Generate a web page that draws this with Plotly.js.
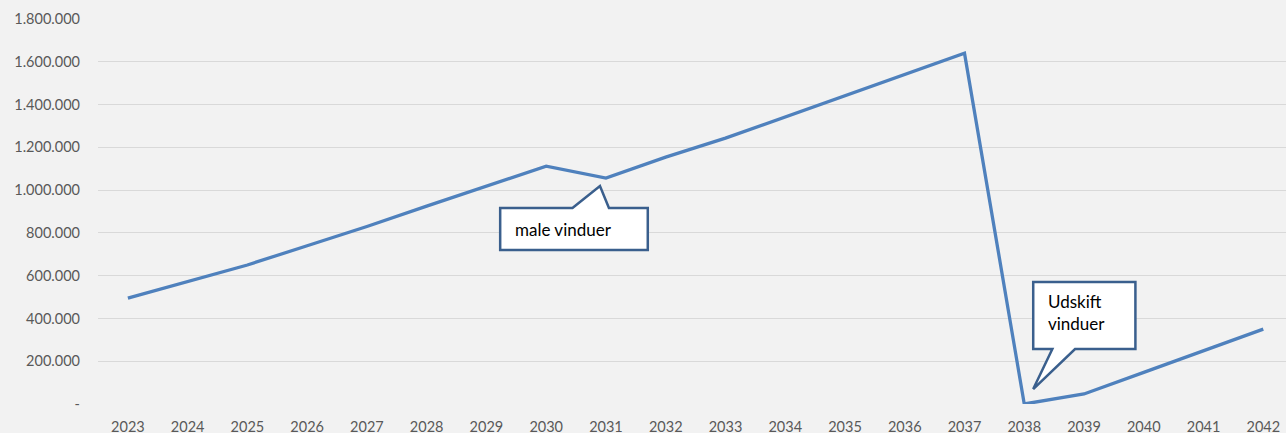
<!DOCTYPE html>
<html><head><meta charset="utf-8">
<script src="https://cdn.plot.ly/plotly-3.0.1.min.js"></script>
<style>body{margin:0;background:#f2f2f2}</style>
</head><body><div id="c" style="width:1286px;height:433px"></div>
<script>
const years = [2023,2024,2025,2026,2027,2028,2029,2030,2031,2032,2033,2034,2035,2036,2037,2038,2039,2040,2041,2042];
const values = [495000,572000,650000,740000,830000,925000,1020000,1112000,1056000,1154000,1243000,1342000,1441000,1540000,1640000,0,47000,148000,250000,350000];
const yTickVals = [0,200000,400000,600000,800000,1000000,1200000,1400000,1600000,1800000];
const yTickText = ['-','200.000','400.000','600.000','800.000','1.000.000','1.200.000','1.400.000','1.600.000','1.800.000'];
const callout1 = {text:'male vinduer', x0:2029.23, x1:2031.70, y0:720000, y1:916000, b0:2030.44, b1:2031.05, tx:2030.90, ty:1019000};
const callout2 = {text:'Udskift<br>vinduer', x0:2038.15, x1:2039.86, y0:257000, y1:570000, b0:2038.47, b1:2038.85, tx:2038.15, ty:70000};

const font = 'Lato, "Open Sans", sans-serif';
const border = '#3a5f8d';
function p1(c){ // pointer on top edge
  return `M${c.x0},${c.y0} L${c.x0},${c.y1} L${c.b0},${c.y1} L${c.tx},${c.ty} L${c.b1},${c.y1} L${c.x1},${c.y1} L${c.x1},${c.y0} Z`;
}
function p2(c){ // pointer on bottom edge
  return `M${c.x0},${c.y0} L${c.x0},${c.y1} L${c.x1},${c.y1} L${c.x1},${c.y0} L${c.b1},${c.y0} L${c.tx},${c.ty} L${c.b0},${c.y0} Z`;
}
const trace = {x:years, y:values, type:'scatter', mode:'lines', line:{color:'#4f81bd', width:3.3}, hoverinfo:'skip'};
const layout = {
  width:1286, height:433,
  margin:{l:98, r:0, t:19, b:29},
  paper_bgcolor:'#f2f2f2', plot_bgcolor:'#f2f2f2',
  showlegend:false,
  separators:',.',
  font:{family:font, size:14, color:'#595959'},
  xaxis:{range:[2022.5,2042.38], tickvals:years, ticktext:years.map(String), showgrid:false, zeroline:false, showline:false, ticks:'', ticklabelstandoff:12, tickfont:{size:14.5,color:'#595959'}, fixedrange:true},
  yaxis:{range:[0,1800000], tickvals:yTickVals, ticktext:yTickText, showgrid:true, gridcolor:'#d9d9d9', gridwidth:1, zeroline:false, showline:false, ticks:'', ticklabelstandoff:17, tickfont:{size:14.5,color:'#595959'}, fixedrange:true},
  shapes:[
    {type:'path', xref:'x', yref:'y', path:p1(callout1), fillcolor:'#ffffff', line:{color:border, width:2.5}, layer:'above'},
    {type:'path', xref:'x', yref:'y', path:p2(callout2), fillcolor:'#ffffff', line:{color:border, width:2.5}, layer:'above'}
  ],
  annotations:[
    {xref:'x', yref:'y', x:callout1.x0+0.22, y:(callout1.y0+callout1.y1)/2, text:callout1.text, showarrow:false, xanchor:'left', yanchor:'middle', font:{family:font, size:17, color:'#000'}},
    {xref:'x', yref:'y', x:callout2.x0+0.22, y:callout2.y1-30000, text:callout2.text, showarrow:false, xanchor:'left', yanchor:'top', align:'left', font:{family:font, size:17, color:'#000'}}
  ]
};
Plotly.newPlot('c',[trace],layout,{displayModeBar:false, staticPlot:true});
</script></body></html>
